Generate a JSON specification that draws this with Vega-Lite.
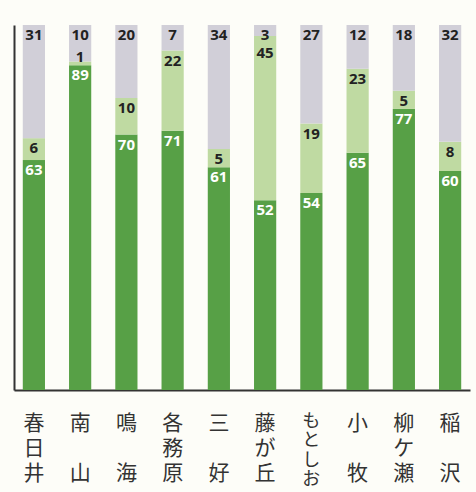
{
  "$schema": "https://vega.github.io/schema/vega-lite/v6.json",
  "width": 456,
  "height": 365,
  "autosize": "none",
  "padding": {"left": 14, "top": 25, "right": 6, "bottom": 102},
  "background": "#fdfdf8",
  "config": {"view": {"stroke": null}},
  "data": {
    "values": [
      {"name": "春日井", "type": "dark", "order": 1, "value": 63},
      {"name": "春日井", "type": "light", "order": 2, "value": 6},
      {"name": "春日井", "type": "gray", "order": 3, "value": 31},
      {"name": "南山", "type": "dark", "order": 1, "value": 89},
      {"name": "南山", "type": "light", "order": 2, "value": 1},
      {"name": "南山", "type": "gray", "order": 3, "value": 10},
      {"name": "鳴海", "type": "dark", "order": 1, "value": 70},
      {"name": "鳴海", "type": "light", "order": 2, "value": 10},
      {"name": "鳴海", "type": "gray", "order": 3, "value": 20},
      {"name": "各務原", "type": "dark", "order": 1, "value": 71},
      {"name": "各務原", "type": "light", "order": 2, "value": 22},
      {"name": "各務原", "type": "gray", "order": 3, "value": 7},
      {"name": "三好", "type": "dark", "order": 1, "value": 61},
      {"name": "三好", "type": "light", "order": 2, "value": 5},
      {"name": "三好", "type": "gray", "order": 3, "value": 34},
      {"name": "藤が丘", "type": "dark", "order": 1, "value": 52},
      {"name": "藤が丘", "type": "light", "order": 2, "value": 45},
      {"name": "藤が丘", "type": "gray", "order": 3, "value": 3},
      {"name": "もとしお", "type": "dark", "order": 1, "value": 54},
      {"name": "もとしお", "type": "light", "order": 2, "value": 19},
      {"name": "もとしお", "type": "gray", "order": 3, "value": 27},
      {"name": "小牧", "type": "dark", "order": 1, "value": 65},
      {"name": "小牧", "type": "light", "order": 2, "value": 23},
      {"name": "小牧", "type": "gray", "order": 3, "value": 12},
      {"name": "柳ケ瀬", "type": "dark", "order": 1, "value": 77},
      {"name": "柳ケ瀬", "type": "light", "order": 2, "value": 5},
      {"name": "柳ケ瀬", "type": "gray", "order": 3, "value": 18},
      {"name": "稲沢", "type": "dark", "order": 1, "value": 60},
      {"name": "稲沢", "type": "light", "order": 2, "value": 8},
      {"name": "稲沢", "type": "gray", "order": 3, "value": 32}
    ]
  },
  "transform": [
    {"stack": "value", "groupby": ["name"], "sort": [{"field": "order", "order": "ascending"}], "offset": "normalize", "as": ["y0", "y1"]},
    {"calculate": "datum.type === 'light' ? min(max(datum.y1, datum.y0 + 0.05), 0.95) : datum.y1", "as": "ly"}
  ],
  "encoding": {
    "x": {
      "field": "name",
      "type": "nominal",
      "sort": null,
      "scale": {"paddingInner": 0.52, "paddingOuter": 0.19},
      "axis": {
        "title": null,
        "domainColor": "#333333",
        "domainWidth": 2,
        "ticks": false,
        "labelAngle": 0,
        "labelFont": "Noto Sans CJK JP",
        "labelFontSize": {"expr": "datum.value === 'もとしお' ? 18 : 21"},
        "labelColor": "#333333",
        "labelBaseline": "top",
        "labelPadding": 22,
        "labelLineHeight": {"expr": "datum.value === 'もとしお' ? 19.5 : (length(datum.value) == 2 ? 50 : 25)"},
        "labelExpr": "split(datum.label, '')"
      }
    }
  },
  "layer": [
    {
      "mark": {"type": "bar"},
      "encoding": {
        "y": {"field": "y0", "type": "quantitative", "scale": {"domain": [0, 1]}, "axis": {"title": null, "labels": false, "ticks": false, "grid": false, "domainColor": "#333333", "domainWidth": 2}},
        "y2": {"field": "y1"},
        "color": {
          "field": "type",
          "type": "nominal",
          "scale": {"domain": ["dark", "light", "gray"], "range": ["#57a046", "#bfdaa2", "#d1cfd8"]},
          "legend": null
        }
      }
    },
    {
      "mark": {"type": "text", "baseline": "top", "dy": 3, "font": "Open Sans", "fontWeight": "bold", "fontSize": 15},
      "encoding": {
        "y": {"field": "ly", "type": "quantitative"},
        "text": {"field": "value", "type": "quantitative"},
        "color": {"condition": {"test": "datum.type === 'dark'", "value": "#ffffff"}, "value": "#222222"}
      }
    }
  ]
}
